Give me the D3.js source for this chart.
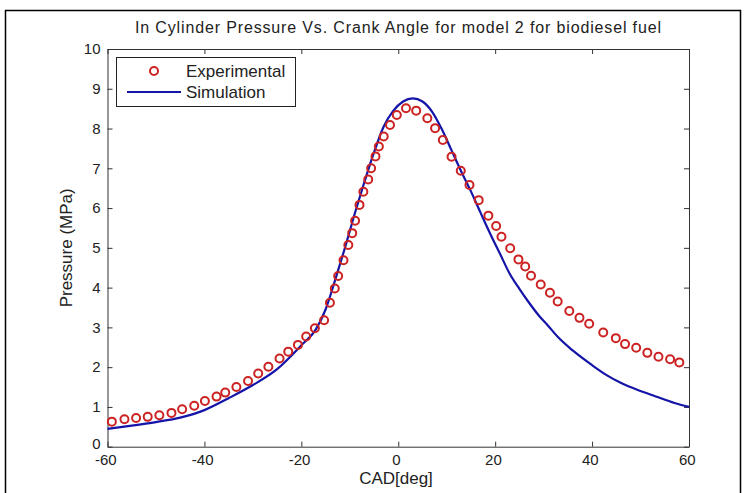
<!DOCTYPE html>
<html><head><meta charset="utf-8">
<script src="https://cdnjs.cloudflare.com/ajax/libs/d3/7.8.5/d3.min.js"></script>
<style>
html,body{margin:0;padding:0;background:#fff;}
svg{display:block;}
text{font-family:"Liberation Sans",Arial,Helvetica,sans-serif;fill:#222;}
</style></head>
<body>
<script>
const titleText = "In Cylinder Pressure Vs. Crank Angle for model 2 for biodiesel fuel";
const xLabel = "CAD[deg]";
const yLabel = "Pressure (MPa)";
const seriesNames = ["Experimental", "Simulation"];
const xTicks = [-60, -40, -20, 0, 20, 40, 60];
const yTicks = [0, 1, 2, 3, 4, 5, 6, 7, 8, 9, 10];

const expCAD = [-59.1,-56.5,-54.1,-51.7,-49.3,-46.8,-44.6,-42.1,-39.9,-37.5,-35.7,-33.4,-31.0,-28.9,-26.8,-24.5,-22.7,-20.7,-19.0,-17.2,-15.3,-14.1,-13.1,-12.4,-11.3,-10.3,-9.5,-8.9,-8.0,-7.2,-6.2,-5.6,-4.7,-4.0,-3.0,-1.7,-0.3,1.6,3.7,6.0,7.6,9.2,11.0,12.9,14.7,16.6,18.6,20.2,21.3,23.1,24.8,26.2,27.4,29.4,31.3,32.9,35.3,37.4,39.4,42.3,44.9,46.8,49.1,51.4,53.7,56.1,58.0];
const expP = [0.63,0.69,0.72,0.75,0.79,0.85,0.94,1.03,1.15,1.26,1.36,1.50,1.65,1.84,2.01,2.22,2.39,2.56,2.77,2.98,3.18,3.62,3.98,4.29,4.69,5.07,5.37,5.68,6.08,6.41,6.72,7.00,7.30,7.55,7.80,8.09,8.34,8.51,8.45,8.26,8.01,7.71,7.29,6.94,6.58,6.20,5.81,5.55,5.28,4.99,4.71,4.53,4.30,4.08,3.87,3.65,3.41,3.24,3.09,2.87,2.73,2.58,2.49,2.36,2.26,2.20,2.12];

const simCAD = [-60,-55,-50,-45,-40,-35,-30,-25,-20,-17,-15,-13,-11,-9,-7,-5,-3,-1,1,3,5,7,9,11,13,15,17,19,21,23,25,27,29,31,33,36,40,43,46,50,53,57,60];
const simP = [0.45,0.53,0.62,0.73,0.92,1.22,1.55,1.95,2.55,2.95,3.45,4.2,5.0,5.85,6.65,7.4,8.05,8.45,8.68,8.76,8.68,8.42,7.98,7.45,6.92,6.42,5.88,5.35,4.85,4.35,3.97,3.62,3.3,3.03,2.75,2.42,2.05,1.8,1.6,1.4,1.27,1.1,1.0];

const W = 747, H = 493;
const svg = d3.select("body").append("svg").attr("width", W).attr("height", H);

// figure border
svg.append("rect").attr("x", 5.5).attr("y", 10.5).attr("width", 735).attr("height", 500)
  .attr("fill", "none").attr("stroke", "#000").attr("stroke-width", 1.5);

const x = d3.scaleLinear().domain([-60, 60]).range([107.5, 689]);
const y = d3.scaleLinear().domain([0, 10]).range([446.7, 49]);

const axisColor = "#333";
const tickFs = "15px";
const labFs = "17px";
const fmt = d => String(d);

const gB = svg.append("g").attr("transform", `translate(0,${y(0)})`)
  .call(d3.axisBottom(x).tickValues(xTicks).tickSizeInner(-5).tickSizeOuter(0).tickPadding(8).tickFormat(fmt));
const gL = svg.append("g").attr("transform", `translate(${x(-60)},0)`)
  .call(d3.axisLeft(y).tickValues(yTicks).tickSizeInner(-5).tickSizeOuter(0).tickPadding(7).tickFormat(fmt));
const gT = svg.append("g").attr("transform", `translate(0,${y(10)})`)
  .call(d3.axisTop(x).tickValues(xTicks).tickSizeInner(-5).tickSizeOuter(0).tickFormat(""));
const gR = svg.append("g").attr("transform", `translate(${x(60)},0)`)
  .call(d3.axisRight(y).tickValues(yTicks).tickSizeInner(-5).tickSizeOuter(0).tickFormat(""));
[gB, gL, gT, gR].forEach(g => {
  g.selectAll("path.domain").attr("stroke", axisColor).attr("stroke-width", 1);
  g.selectAll(".tick line").attr("stroke", axisColor).attr("stroke-width", 1);
  g.selectAll("text").attr("font-size", tickFs).attr("fill", "#222")
    .attr("font-family", "'Liberation Sans',Arial,sans-serif");
});
// nudge bottom labels to sit centred like the reference
gB.selectAll(".tick text").attr("dx", "-0.15em");
// lift the "0" y label slightly so it clears the "-60" x label
gL.selectAll(".tick text").filter(d => d === 0).attr("dy", "0.12em");

// title & labels
svg.append("text").attr("x", 398).attr("y", 33).attr("text-anchor", "middle")
  .attr("font-size", "16px").attr("textLength", 526).attr("lengthAdjust", "spacing").text(titleText);
svg.append("text").attr("x", 396).attr("y", 484).attr("text-anchor", "middle")
  .attr("font-size", labFs).text(xLabel);
svg.append("text").attr("transform", `translate(72,${(y(0) + y(10)) / 2}) rotate(-90)`)
  .attr("text-anchor", "middle").attr("font-size", labFs).text(yLabel);

const red = "#cc2222", blue = "#1414a8";

// simulation line
const line = d3.line().x((d, i) => x(simCAD[i])).y(d => y(d)).curve(d3.curveMonotoneX);
svg.append("path").datum(simP).attr("d", line).attr("fill", "none")
  .attr("stroke", blue).attr("stroke-width", 2.2);

// experimental markers
svg.append("g").selectAll("circle").data(expP).join("circle")
  .attr("cx", (d, i) => x(expCAD[i])).attr("cy", d => y(d)).attr("r", 4)
  .attr("fill", "none").attr("stroke", red).attr("stroke-width", 2);

// legend
const lg = svg.append("g");
lg.append("rect").attr("x", 116.5).attr("y", 57.5).attr("width", 179).attr("height", 49)
  .attr("fill", "#fff").attr("stroke", "#222").attr("stroke-width", 1);
lg.append("circle").attr("cx", 154).attr("cy", 71).attr("r", 4)
  .attr("fill", "none").attr("stroke", red).attr("stroke-width", 2);
lg.append("line").attr("x1", 127).attr("x2", 181).attr("y1", 92).attr("y2", 92)
  .attr("stroke", blue).attr("stroke-width", 2.2);
lg.append("text").attr("x", 186).attr("y", 77).attr("font-size", labFs).text(seriesNames[0]);
lg.append("text").attr("x", 186).attr("y", 98).attr("font-size", labFs).text(seriesNames[1]);
</script>
</body></html>
